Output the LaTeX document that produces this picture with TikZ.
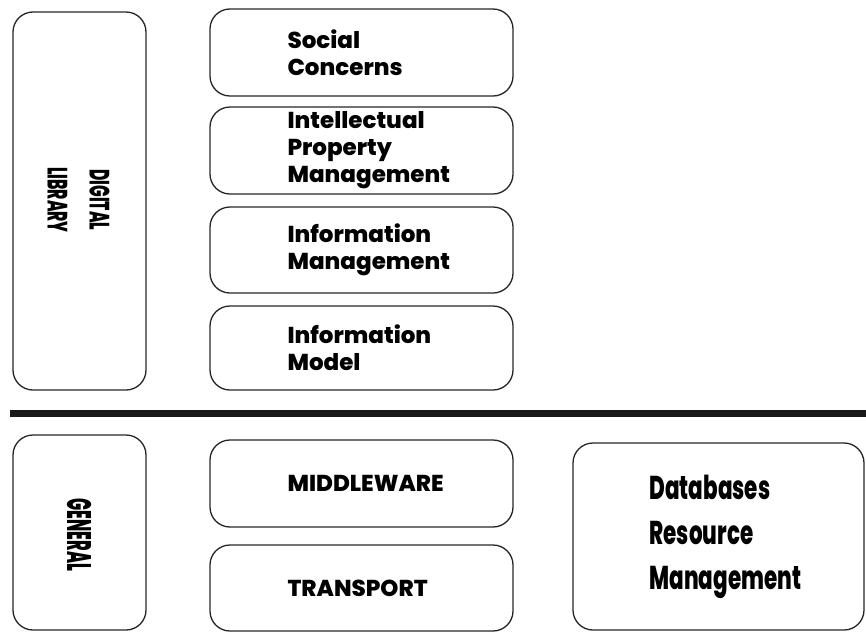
\documentclass[tikz,border=0pt]{standalone}
\usepackage{fontspec}
\setmainfont{Poppins}[BoldFont={Poppins ExtraBold}]
\newfontfamily\tallfont{Poppins}[BoldFont={Poppins ExtraBold}, FakeStretch=0.65]
\newfontfamily\sidefont{Poppins}[BoldFont={Poppins ExtraBold}, FakeStretch=0.55]
\newfontfamily\genfont{Poppins}[BoldFont={Poppins ExtraBold}, FakeStretch=0.47]

\begin{document}
\begin{tikzpicture}[x=1pt,y=-1pt,
  layer/.style={draw=black!85, line width=1.3pt, rounded corners=20pt, inner sep=0pt},
  layertext/.style={anchor=west, align=left, inner sep=0pt,
    font=\fontsize{23}{27}\selectfont\bfseries}]
\useasboundingbox (0,0) rectangle (866,632);
% digital library side
\node[layer, minimum width=133pt, minimum height=378pt] (diglib) at (79.5,201) {};
\node[rotate=-90, align=center, inner sep=0pt,
  font=\sidefont\fontsize{28}{42}\selectfont\bfseries] (diglibtxt) at (78.5,200) {DIGITAL\\LIBRARY};
% digital library layers
\node[layer, minimum width=303pt, minimum height=87pt] (social) at (361.5,52.5) {};
\node[layer, minimum width=303pt, minimum height=87pt] (ipm) at (361.5,150.5) {};
\node[layer, minimum width=303pt, minimum height=86pt] (infoman) at (361.5,250) {};
\node[layer, minimum width=303pt, minimum height=84pt] (infomod) at (361.5,348) {};
\node[layertext] (socialtxt) at ([xshift=78pt]social.west) {Social\\Concerns};
\node[layertext] (ipmtxt) at ([xshift=78pt]ipm.west) {Intellectual\\Property\\Management};
\node[layertext] (infomantxt) at ([xshift=78pt]infoman.west) {Information\\Management};
\node[layertext] (infomodtxt) at ([xshift=78pt]infomod.west) {Information\\Model};
% dividing rule
\coordinate (ruleL) at (10,413.5);
\coordinate (ruleR) at (866,413.5);
\draw[line width=7pt, black!90] (ruleL) -- (ruleR);
% general side
\node[layer, minimum width=133pt, minimum height=195pt] (general) at (79.5,532.5) {};
\node[rotate=-90, inner sep=0pt,
  font=\genfont\fontsize{34}{40}\selectfont\bfseries] (generaltxt) at (80,535) {GENERAL};
\node[layer, minimum width=303pt, minimum height=87pt] (middle) at (361.5,483.5) {};
\node[layer, minimum width=303pt, minimum height=86pt] (transport) at (361.5,588) {};
\node[layertext] (middletxt) at ([xshift=78pt]middle.west) {MIDDLEWARE};
\node[layertext] (transporttxt) at ([xshift=78pt]transport.west) {TRANSPORT};
% databases
\node[layer, minimum width=291pt, minimum height=187pt] (db) at (718.5,536.5) {};
\node[anchor=west, align=left, inner sep=0pt,
  font=\tallfont\fontsize{33}{45}\selectfont\bfseries] (dbtxt) at ([xshift=77pt]db.west)
  {Databases\\Resource\\Management};
\end{tikzpicture}
\end{document}
